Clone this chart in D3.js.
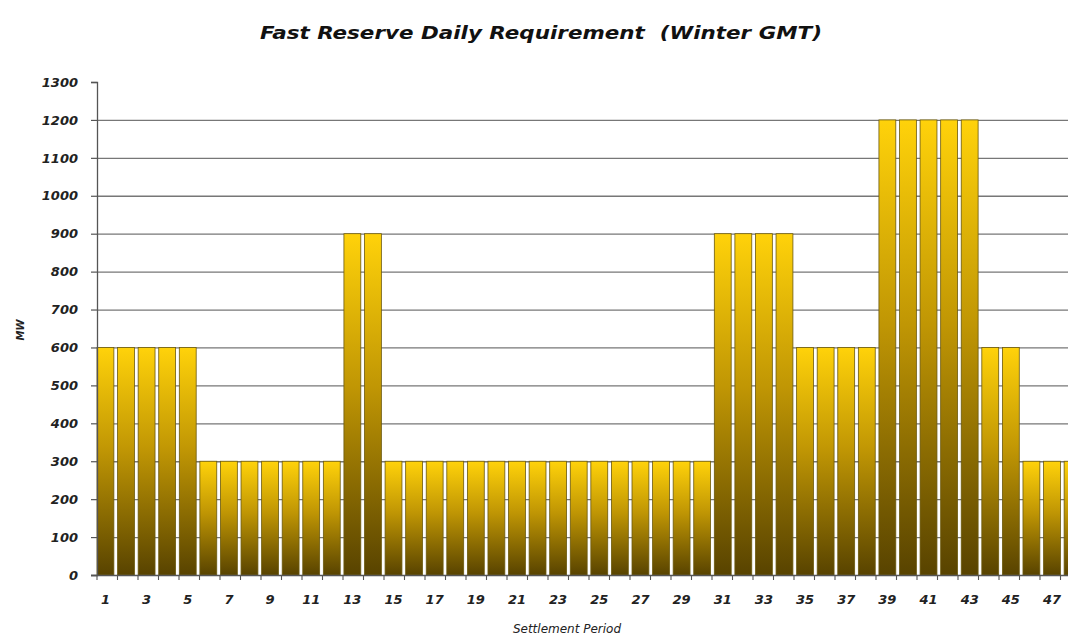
<!DOCTYPE html>
<html>
<head>
<meta charset="utf-8">
<script src="https://cdn.jsdelivr.net/npm/d3@7"></script>
<style>
  body { margin: 0; background: #fff; }
  svg { display: block; }
</style>
</head>
<body>
<script>
// settlement periods 1..48 and their fast reserve requirement (MW)
const periods = d3.range(1, 49)
const requirement = [
    600, 600, 600, 600, 600,
    300, 300, 300, 300, 300, 300, 300,
    900, 900,
    300, 300, 300, 300, 300, 300, 300, 300, 300, 300, 300, 300, 300, 300, 300, 300,
    900, 900, 900, 900,
    600, 600, 600, 600,
    1200, 1200, 1200, 1200, 1200,
    600, 600,
    300, 300, 300
]
const yTicks = d3.range(0, 1301, 100)

const data = periods.map((p, i) => ({ x: p, y: requirement[i] }))

const width = 1068, height = 637
const margin = { top: 82, left: 97, bottom: 62 }
const plotBottom = height - margin.bottom
const band = 20.5

const svg = d3.select('body').append('svg')
    .attr('width', width)
    .attr('height', height)

const defs = svg.append('defs')
const grad = defs.append('linearGradient')
    .attr('id', 'gold')
    .attr('x1', 0).attr('y1', 0)
    .attr('x2', 0).attr('y2', 1)
grad.append('stop').attr('offset', '0%').attr('stop-color', '#ffd20a')
grad.append('stop').attr('offset', '45%').attr('stop-color', '#c09604')
grad.append('stop').attr('offset', '100%').attr('stop-color', '#584300')

const x = d3.scaleBand()
    .domain(periods)
    .range([margin.left, margin.left + band * periods.length])
    .paddingInner(0.18)
    .paddingOuter(0.0)

const y = d3.scaleLinear()
    .domain([0, 1300])
    .range([plotBottom, margin.top])

// gridlines
svg.append('g')
    .selectAll('line')
    .data(yTicks.filter(t => t > 0 && t < 1300))
    .enter().append('line')
    .attr('x1', margin.left).attr('x2', width)
    .attr('y1', d => y(d) + 0.5).attr('y2', d => y(d) + 0.5)
    .attr('stroke', '#777')
    .attr('stroke-width', 1.3)

// bars
svg.append('g')
    .selectAll('rect')
    .data(data)
    .enter().append('rect')
    .attr('x', d => x(d.x))
    .attr('y', d => y(d.y))
    .attr('width', x.bandwidth())
    .attr('height', d => plotBottom - y(d.y))
    .attr('fill', 'url(#gold)')
    .attr('stroke', '#6b5a10')
    .attr('stroke-width', 0.8)

// y axis
const yAxis = svg.append('g')
    .attr('transform', `translate(${margin.left},0)`)
    .call(d3.axisLeft(y).tickValues(yTicks).tickFormat(d3.format('d')).tickSize(6).tickPadding(13))
yAxis.select('.domain').attr('stroke', '#555').attr('stroke-width', 1.3)
yAxis.selectAll('.tick line').attr('stroke', '#555').attr('stroke-width', 1.2)
yAxis.selectAll('text')
    .attr('fill', '#222')
    .style('font', 'italic bold 13px "DejaVu Sans"')

// x axis
const xAxis = svg.append('g')
    .attr('transform', `translate(0,${plotBottom})`)
xAxis.append('line')
    .attr('x1', margin.left - 6).attr('x2', width)
    .attr('y1', 0.5).attr('y2', 0.5)
    .attr('stroke', '#555').attr('stroke-width', 1.3)
xAxis.selectAll('.tk')
    .data(periods.concat([49]))
    .enter().append('line')
    .attr('class', 'tk')
    .attr('x1', d => margin.left + (d - 1) * band)
    .attr('x2', d => margin.left + (d - 1) * band)
    .attr('y1', 0).attr('y2', 5)
    .attr('stroke', '#555').attr('stroke-width', 1.1)
xAxis.selectAll('text')
    .data(periods.filter(p => p % 2 === 1))
    .enter().append('text')
    .attr('x', d => x(d) + x.bandwidth() / 2)
    .attr('y', 29)
    .attr('text-anchor', 'middle')
    .attr('fill', '#222')
    .style('font', 'italic bold 13px "DejaVu Sans"')
    .text(d => d)

// titles
svg.append('text')
    .attr('x', 541).attr('y', 39)
    .attr('text-anchor', 'middle')
    .attr('textLength', 562)
    .attr('lengthAdjust', 'spacingAndGlyphs')
    .attr('fill', '#111')
    .style('font', 'italic bold 17px "DejaVu Sans"')
    .style('white-space', 'pre')
    .text('Fast Reserve Daily Requirement  (Winter GMT)')

svg.append('text')
    .attr('x', 567).attr('y', 633)
    .attr('text-anchor', 'middle')
    .attr('fill', '#222')
    .style('font', 'italic 12px "DejaVu Sans"')
    .text('Settlement Period')

svg.append('text')
    .attr('transform', 'translate(24,330) rotate(-90)')
    .attr('text-anchor', 'middle')
    .attr('fill', '#222')
    .style('font', 'italic bold 10px "DejaVu Sans"')
    .text('MW')
</script>
</body>
</html>
